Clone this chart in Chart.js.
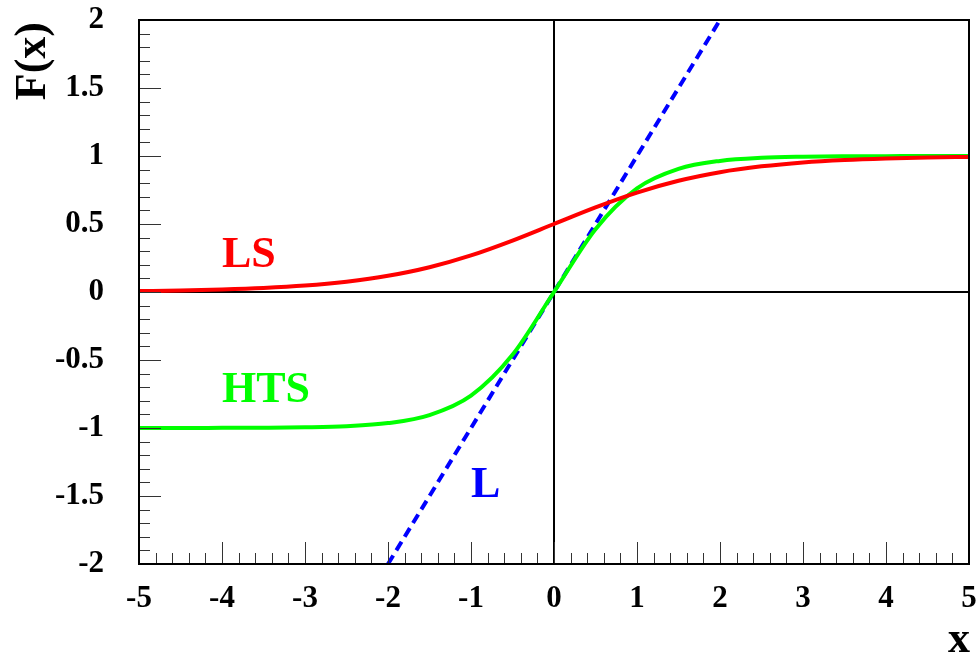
<!DOCTYPE html>
<html>
<head>
<meta charset="utf-8">
<script src="https://cdn.jsdelivr.net/npm/chart.js"></script>
<style>
  html, body { margin: 0; padding: 0; background: #fff; }
  #wrap { width: 979px; height: 663px; }
</style>
</head>
<body>
<div id="wrap"><canvas id="c" width="979" height="663"></canvas></div>
<script>
// sample points along x
const xs = [-5, -4.5, -4, -3.5, -3, -2.5, -2, -1.5, -1, -0.5, 0, 0.5, 1, 1.5, 2, 2.5, 3, 3.5, 4, 4.5, 5];

// LS (logistic) curve
const lsValues = [0.007, 0.011, 0.018, 0.029, 0.047, 0.076, 0.119, 0.182, 0.269, 0.378, 0.5,
                  0.622, 0.731, 0.818, 0.881, 0.924, 0.953, 0.971, 0.982, 0.989, 0.993];

// HTS (hyperbolic tangent) curve
const htsValues = [-1.0, -1.0, -0.999, -0.998, -0.995, -0.987, -0.964, -0.905, -0.762, -0.462, 0,
                   0.462, 0.762, 0.905, 0.964, 0.987, 0.995, 0.998, 0.999, 1.0, 1.0];

// L (linear) line end points
const lX = [-2, 2];
const lValues = [-2, 2];

// curve labels: text, colour, x, y (baseline, data units)
const curveLabels = [
  { text: 'LS', color: '#ff0000', x: -4, y: 0.184 },
  { text: 'HTS', color: '#00ff00', x: -4, y: -0.81 },
  { text: 'L', color: '#0000ff', x: -1.0, y: -1.507 }
];

const xTicks = [-5, -4, -3, -2, -1, 0, 1, 2, 3, 4, 5];
const yTicks = [-2, -1.5, -1, -0.5, 0, 0.5, 1, 1.5, 2];

const toPoints = (xv, yv) => xv.map((x, i) => ({ x: x, y: yv[i] }));

const FONT = '"Liberation Serif", "Times New Roman", serif';

const noPad = s => {
  s.paddingTop = 0; s.paddingBottom = 0;
  s.paddingLeft = 0; s.paddingRight = 0;
};

// zero lines under the curves
const zeroLines = {
  id: 'zeroLines',
  beforeDatasetsDraw(chart) {
    const { ctx, chartArea: a, scales: { x, y } } = chart;
    ctx.save();
    ctx.strokeStyle = '#000';
    ctx.lineWidth = 2;
    const x0 = x.getPixelForValue(0);
    const y0 = y.getPixelForValue(0);
    ctx.beginPath();
    ctx.moveTo(x0, a.top); ctx.lineTo(x0, a.bottom);
    ctx.moveTo(a.left, y0); ctx.lineTo(a.right, y0);
    ctx.stroke();
    ctx.restore();
  }
};

// frame, inner ticks and curve labels
const frameAndText = {
  id: 'frameAndText',
  afterDraw(chart) {
    const { ctx, chartArea: a, scales: { x, y } } = chart;
    ctx.save();

    // ticks along bottom axis: major each 1, minor each 0.2
    ctx.strokeStyle = '#333';
    ctx.lineWidth = 1;
    ctx.beginPath();
    for (let i = -25; i <= 25; i++) {
      const v = i / 5;
      const px = Math.round(x.getPixelForValue(v)) + 0.5;
      const len = (i % 5 === 0) ? 22 : 11;
      ctx.moveTo(px, a.bottom);
      ctx.lineTo(px, a.bottom - len);
    }
    // ticks along left axis: major each 0.5, minor each 0.1
    for (let i = -20; i <= 20; i++) {
      const v = i / 10;
      const py = Math.round(y.getPixelForValue(v)) + 0.5;
      const len = (i % 5 === 0) ? 22 : 11;
      ctx.moveTo(a.left, py);
      ctx.lineTo(a.left + len, py);
    }
    ctx.stroke();

    // frame
    ctx.strokeStyle = '#000';
    ctx.lineWidth = 2;
    ctx.strokeRect(a.left, a.top, a.right - a.left, a.bottom - a.top);

    // curve labels
    ctx.font = 'bold 44px ' + FONT;
    ctx.textAlign = 'left';
    ctx.textBaseline = 'alphabetic';
    curveLabels.forEach(l => {
      ctx.fillStyle = l.color;
      ctx.fillText(l.text, x.getPixelForValue(l.x), y.getPixelForValue(l.y));
    });

    // axis titles
    ctx.fillStyle = '#000';
    ctx.font = 'bold 44px ' + FONT;
    ctx.textAlign = 'right';
    ctx.textBaseline = 'alphabetic';
    ctx.fillText('x', a.right + 1, 652);

    ctx.translate(45, a.top + 2);
    ctx.rotate(-Math.PI / 2);
    ctx.textAlign = 'right';
    ctx.fillText('F(x)', 0, 0);

    ctx.restore();
  }
};

new Chart(document.getElementById('c'), {
  type: 'line',
  data: {
    datasets: [
      {
        label: 'LS',
        data: toPoints(xs, lsValues),
        borderColor: '#ff0000',
        borderWidth: 4,
        pointRadius: 0,
        cubicInterpolationMode: 'monotone'
      },
      {
        label: 'HTS',
        data: toPoints(xs, htsValues),
        borderColor: '#00ff00',
        borderWidth: 4,
        pointRadius: 0,
        cubicInterpolationMode: 'monotone'
      },
      {
        label: 'L',
        data: toPoints(lX, lValues),
        borderColor: '#0000ff',
        borderWidth: 4,
        borderDash: [10, 6],
        pointRadius: 0
      }
    ]
  },
  options: {
    responsive: false,
    animation: false,
    layout: { padding: { top: 20, right: 10, left: 0, bottom: 0 } },
    plugins: {
      legend: { display: false },
      tooltip: { enabled: false }
    },
    scales: {
      x: {
        type: 'linear',
        min: -5,
        max: 5,
        afterBuildTicks: s => { s.ticks = xTicks.map(v => ({ value: v })); },
        afterFit: s => { s.height = 99; noPad(s); },
        grid: { display: false },
        border: { display: false },
        ticks: {
          padding: 8,
          color: '#000',
          maxRotation: 0,
          font: { family: FONT, size: 31, weight: 'bold' },
          callback: v => String(v)
        }
      },
      y: {
        min: -2,
        max: 2,
        afterBuildTicks: s => { s.ticks = yTicks.map(v => ({ value: v })); },
        afterFit: s => { s.width = 139; noPad(s); },
        grid: { display: false },
        border: { display: false },
        ticks: {
          padding: 27,
          color: '#000',
          font: { family: FONT, size: 31, weight: 'bold' },
          callback: v => String(v)
        }
      }
    }
  },
  plugins: [zeroLines, frameAndText]
});
</script>
</body>
</html>
